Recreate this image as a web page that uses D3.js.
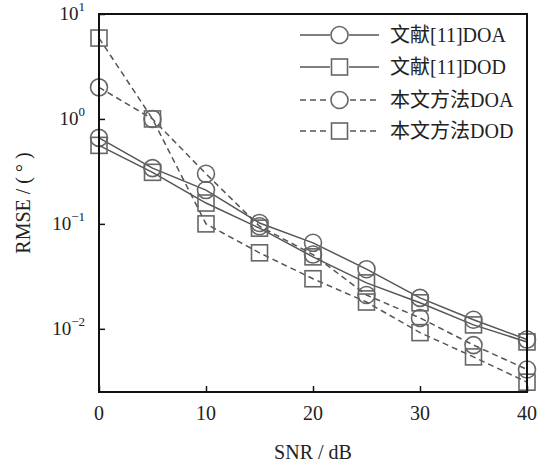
<!DOCTYPE html>
<html>
<head>
<meta charset="utf-8">
<script src="https://cdn.jsdelivr.net/npm/d3@7"></script>
<style>
  body { margin: 0; background: #fff; }
  text { font-family: "Liberation Serif", "Noto Sans CJK SC", serif; fill: #222; }
</style>
</head>
<body>
<svg id="svg" width="552" height="467"></svg>
<script>
// データ（信噪比とRMSE）
const snr = [0, 5, 10, 15, 20, 25, 30, 35, 40];
const ref11DOA = [0.66, 0.34, 0.21, 0.102, 0.066, 0.037, 0.0197, 0.0122, 0.0079];
const ref11DOD = [0.56, 0.31, 0.158, 0.091, 0.0485, 0.0274, 0.0177, 0.0109, 0.0075];
const oursDOA = [2.0, 1.0, 0.30, 0.095, 0.051, 0.021, 0.0127, 0.0070, 0.0041];
const oursDOD = [5.9, 1.0, 0.10, 0.053, 0.030, 0.018, 0.0092, 0.0054, 0.0031];
const xTicks = [0, 10, 20, 30, 40];
const yTicks = [1, 0, -1, -2]; // 10の指数
const seriesNames = ["文献[11]DOA", "文献[11]DOD", "本文方法DOA", "本文方法DOD"];

const svg = d3.select("#svg");
const plotL = 99, plotR = 527, plotT = 14, plotB = 392;
const lineColor = "#555";
const markColor = "#666";

const x = d3.scaleLinear().domain([0, 40]).range([plotL, plotR]);
const y = d3.scaleLog().domain([0.0025, 10]).range([plotB, plotT]);

const series = [
  { name: seriesNames[0], values: ref11DOA, dash: null, mark: "circle" },
  { name: seriesNames[1], values: ref11DOD, dash: null, mark: "square" },
  { name: seriesNames[2], values: oursDOA, dash: "6,4", mark: "circle" },
  { name: seriesNames[3], values: oursDOD, dash: "6,4", mark: "square" },
];

//マーカーを描画する
function drawMark(g, type, cx, cy) {
  if (type == "circle") {
    g.append("circle")
      .attr("cx", cx).attr("cy", cy).attr("r", 8.5)
      .attr("fill", "none").attr("stroke", markColor).attr("stroke-width", 1.6);
  } else {
    g.append("rect")
      .attr("x", cx - 8).attr("y", cy - 8).attr("width", 16).attr("height", 16)
      .attr("fill", "none").attr("stroke", markColor).attr("stroke-width", 1.6);
  }
}

// 線とマーカー
const line = d3.line().x((d) => x(d[0])).y((d) => y(d[1]));
series.forEach((s) => {
  const pts = snr.map((v, i) => [v, s.values[i]]);
  const g = svg.append("g");
  g.append("path")
    .attr("d", line(pts))
    .attr("fill", "none")
    .attr("stroke", lineColor)
    .attr("stroke-width", 1.5)
    .attr("stroke-dasharray", s.dash);
  pts.forEach((p) => drawMark(g, s.mark, x(p[0]), y(p[1])));
});

// 枠
svg.append("rect")
  .attr("x", plotL).attr("y", plotT)
  .attr("width", plotR - plotL).attr("height", plotB - plotT)
  .attr("fill", "none").attr("stroke", "#111").attr("stroke-width", 2);

// x軸
const xAxis = svg.append("g").attr("transform", `translate(0,${plotB})`)
  .call(d3.axisTop(x).tickValues(xTicks).tickSize(6).tickFormat(""));
xAxis.select(".domain").remove();
xAxis.selectAll("line").attr("stroke", "#111").attr("stroke-width", 1.5);
xTicks.forEach((t) => {
  svg.append("text")
    .attr("x", x(t)).attr("y", 420)
    .attr("text-anchor", "middle")
    .attr("font-size", 20)
    .text(t);
});

// y軸
const yAxis = svg.append("g").attr("transform", `translate(${plotL},0)`)
  .call(d3.axisRight(y).tickValues(yTicks.map((e) => Math.pow(10, e))).tickSize(6).tickFormat(""));
yAxis.select(".domain").remove();
yAxis.selectAll("line").attr("stroke", "#111").attr("stroke-width", 1.5);
yTicks.forEach((e) => {
  const t = svg.append("text")
    .attr("x", 85).attr("y", y(Math.pow(10, e)) + 6)
    .attr("text-anchor", "end")
    .attr("font-size", 19);
  t.append("tspan").text("10");
  t.append("tspan").attr("dy", -9).attr("font-size", 13).text(e < 0 ? "\u2212" + (-e) : e);
});

// 軸タイトル
svg.append("text")
  .attr("x", (plotL + plotR) / 2).attr("y", 459)
  .attr("text-anchor", "middle")
  .attr("font-size", 20)
  .text("SNR / dB");
svg.append("text")
  .attr("transform", `translate(30,${(plotT + plotB) / 2}) rotate(-90)`)
  .attr("text-anchor", "middle")
  .attr("font-size", 20)
  .text("RMSE / ( ° )");

// 凡例
const legendY = [35, 67, 100, 131];
series.forEach((s, i) => {
  const g = svg.append("g");
  g.append("line")
    .attr("x1", 300).attr("x2", 379)
    .attr("y1", legendY[i]).attr("y2", legendY[i])
    .attr("stroke", lineColor).attr("stroke-width", 1.5)
    .attr("stroke-dasharray", s.dash);
  g.append("rect")
    .attr("x", 330).attr("y", legendY[i] - 9).attr("width", 19).attr("height", 18)
    .attr("fill", "#fff");
  drawMark(g, s.mark, 339.5, legendY[i]);
  g.append("text")
    .attr("x", 390).attr("y", legendY[i] + 7)
    .attr("font-size", 20)
    .text(s.name);
});
</script>
</body>
</html>
